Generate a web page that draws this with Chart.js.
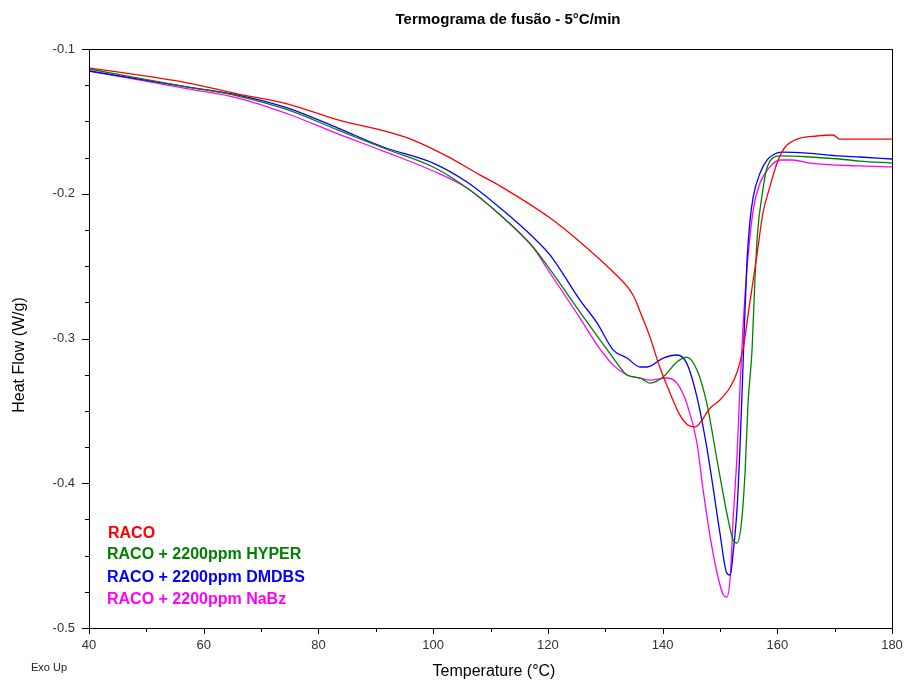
<!DOCTYPE html>
<html>
<head>
<meta charset="utf-8">
<script src="https://cdn.jsdelivr.net/npm/chart.js@4/dist/chart.umd.min.js"></script>
<style>
  html, body { margin: 0; padding: 0; background: #ffffff; }
  #wrap { width: 909px; height: 684px; }
</style>
</head>
<body>
<div id="wrap"><canvas id="c" width="909" height="684"></canvas></div>
<script>
// ---- Data (Temperature °C, Heat Flow W/g) ----
const racoT  = [40, 57.3, 66.0, 74.7, 83.4, 92.1, 96.5, 102.4, 108.2, 111.7, 120.4, 125.6, 131.4, 134.3, 135.2, 136.1, 137.8, 139.5, 141.3, 143.0, 144.4, 145.7, 146.5, 148.3, 150.0, 151.8, 153.0, 154.0, 155.2, 156.4, 157.5, 158.7, 159.9, 160.8, 161.7, 164.0, 166.9, 169.7, 170.9, 180];
const racoHF = [-0.1131, -0.1235, -0.1311, -0.1380, -0.1490, -0.1573, -0.1629, -0.1740, -0.1871, -0.1947, -0.2168, -0.2333, -0.2541, -0.2665, -0.2727, -0.2817, -0.2990, -0.3197, -0.3377, -0.3528, -0.3598, -0.3611, -0.3584, -0.3480, -0.3425, -0.3335, -0.3231, -0.3080, -0.2755, -0.2437, -0.2133, -0.1953, -0.1795, -0.1712, -0.1663, -0.1615, -0.1601, -0.1594, -0.1622, -0.1622];

const hyperT  = [40, 57.3, 66.0, 74.7, 83.4, 91.3, 100.0, 105.9, 111.7, 117.4, 119.8, 125.6, 128.6, 131.4, 133.8, 136.1, 137.8, 140.1, 142.5, 144.2, 146.0, 147.7, 149.5, 151.2, 152.3, 153.0, 153.8, 154.4, 154.9, 155.6, 156.1, 156.6, 157.3, 158.1, 159.2, 160.5, 165.7, 170.9, 174.4, 180];
const hyperHF = [-0.1138, -0.1263, -0.1325, -0.1421, -0.1560, -0.1684, -0.1815, -0.1960, -0.2147, -0.2368, -0.2492, -0.2817, -0.2983, -0.3135, -0.3252, -0.3273, -0.3308, -0.3266, -0.3162, -0.3128, -0.3218, -0.3446, -0.3840, -0.4206, -0.4392, -0.4413, -0.4254, -0.3909, -0.3446, -0.3080, -0.2596, -0.2251, -0.2022, -0.1836, -0.1753, -0.1739, -0.1746, -0.1760, -0.1774, -0.1788];

const dmdbsT  = [40, 57.3, 66.0, 74.7, 83.4, 91.3, 100.0, 105.9, 111.7, 117.4, 120.4, 125.6, 128.6, 131.4, 133.8, 136.1, 137.3, 140.1, 142.5, 144.2, 146.0, 147.7, 148.8, 150.0, 151.2, 151.8, 152.3, 153.0, 153.5, 154.0, 154.2, 154.7, 155.2, 155.8, 157.0, 158.2, 159.9, 161.0, 165.2, 170.9, 174.4, 180];
const dmdbsHF = [-0.1152, -0.1263, -0.1318, -0.1408, -0.1546, -0.1677, -0.1788, -0.1919, -0.2099, -0.2299, -0.2424, -0.2735, -0.2894, -0.3080, -0.3135, -0.3197, -0.3197, -0.3135, -0.3114, -0.3170, -0.3405, -0.3750, -0.4027, -0.4345, -0.4621, -0.4635, -0.4483, -0.4165, -0.3750, -0.3218, -0.2990, -0.2479, -0.2203, -0.2022, -0.1857, -0.1767, -0.1719, -0.1712, -0.1719, -0.1739, -0.1746, -0.1760];

const nabzT  = [40, 57.3, 66.0, 74.7, 83.4, 91.3, 100.0, 105.9, 111.7, 117.4, 119.8, 125.6, 128.6, 131.4, 133.8, 136.1, 137.8, 140.7, 142.5, 144.2, 146.0, 147.0, 148.3, 149.5, 150.6, 151.2, 151.8, 152.3, 153.0, 153.5, 154.0, 154.7, 155.8, 157.0, 158.7, 160.5, 162.7, 165.7, 174.4, 180];
const nabzHF = [-0.1152, -0.1276, -0.1339, -0.1449, -0.1587, -0.1705, -0.1843, -0.1960, -0.2147, -0.2368, -0.2513, -0.2859, -0.3045, -0.3184, -0.3252, -0.3273, -0.3287, -0.3273, -0.3308, -0.3446, -0.3722, -0.4026, -0.4371, -0.4620, -0.4772, -0.4786, -0.4648, -0.4254, -0.3791, -0.3335, -0.2941, -0.2527, -0.2112, -0.1926, -0.1815, -0.1767, -0.1767, -0.1788, -0.1808, -0.1815];

const seriesNames = ["RACO", "RACO + 2200ppm HYPER", "RACO + 2200ppm DMDBS", "RACO + 2200ppm NaBz"];
const xTickValues = [40, 60, 80, 100, 120, 140, 160, 180];
const yTickValues = [-0.1, -0.2, -0.3, -0.4, -0.5];
const chartTitle = "Termograma de fusão - 5°C/min";
const xTitle = "Temperature (°C)";
const yTitle = "Heat Flow (W/g)";
const cornerNote = "Exo Up";

const colors = ["#ff0000", "#008000", "#0000ff", "#ff00ff"];
const FONT = "Arial, 'Liberation Sans', sans-serif";

function pts(xs, ys) { return xs.map((x, i) => ({ x: x, y: ys[i] })); }

const datasets = [
  [racoT, racoHF], [hyperT, hyperHF], [dmdbsT, dmdbsHF], [nabzT, nabzHF]
].map((s, i) => ({
  label: seriesNames[i],
  data: pts(s[0], s[1]),
  borderColor: colors[i],
  backgroundColor: colors[i],
  borderWidth: 1.3,
  pointRadius: 0,
  fill: false,
  showLine: true,
  cubicInterpolationMode: 'monotone'
}));

const decor = {
  id: 'decor',
  afterDraw(chart) {
    const ctx = chart.ctx;
    const a = chart.chartArea;
    const xs = chart.scales.x, ys = chart.scales.y;
    ctx.save();
    // frame
    ctx.strokeStyle = '#000';
    ctx.lineWidth = 1;
    ctx.strokeRect(Math.round(a.left) + 0.5, Math.round(a.top) + 0.5, Math.round(a.right - a.left), Math.round(a.bottom - a.top));
    // x ticks
    ctx.beginPath();
    for (let t = 40; t <= 180; t += 10) {
      const px = Math.round(xs.getPixelForValue(t)) + 0.5;
      const len = (t % 20 === 0) ? 6 : 4;
      ctx.moveTo(px, a.bottom);
      ctx.lineTo(px, a.bottom + len);
    }
    // y ticks
    for (let k = 0; k <= 16; k++) {
      const v = -0.5 + k * 0.025;
      const py = Math.round(ys.getPixelForValue(v)) + 0.5;
      const len = (k % 4 === 0) ? 7 : 4;
      ctx.moveTo(a.left, py);
      ctx.lineTo(a.left - len, py);
    }
    ctx.stroke();

    // title
    ctx.fillStyle = '#000';
    ctx.textAlign = 'center';
    ctx.textBaseline = 'middle';
    ctx.font = 'bold 15px ' + FONT;
    ctx.fillText(chartTitle, 508, 20);
    // axis titles
    ctx.font = '16px ' + FONT;
    ctx.fillText(xTitle, 494, 672);
    ctx.save();
    ctx.translate(20, 355);
    ctx.rotate(-Math.PI / 2);
    ctx.fillText(yTitle, 0, 0);
    ctx.restore();
    // corner note
    ctx.font = '11px ' + FONT;
    ctx.textAlign = 'left';
    ctx.fillStyle = '#222';
    ctx.fillText(cornerNote, 31, 668);
    // legend text
    ctx.font = 'bold 16px ' + FONT;
    const ly = [534, 555, 578, 600];
    const lx = [108, 107, 107, 107];
    seriesNames.forEach((n, i) => {
      ctx.fillStyle = colors[i];
      ctx.fillText(n, lx[i], ly[i]);
    });
    ctx.restore();
  }
};

new Chart(document.getElementById('c'), {
  type: 'scatter',
  data: { datasets: datasets },
  options: {
    responsive: false,
    animation: false,
    devicePixelRatio: 1,
    layout: { padding: { left: 0, top: 49, right: 17, bottom: 0 } },
    plugins: { legend: { display: false }, title: { display: false }, tooltip: { enabled: false } },
    scales: {
      x: {
        type: 'linear', min: 40, max: 180,
        afterFit(s) { s.height = 56; s.paddingLeft = 0; s.paddingRight = 0; },
        afterBuildTicks(s) { s.ticks = xTickValues.map(v => ({ value: v })); },
        grid: { display: false, drawTicks: false },
        border: { display: false },
        ticks: { padding: 10, color: '#333', font: { family: FONT, size: 13 }, maxRotation: 0, autoSkip: false, callback: v => String(v) }
      },
      y: {
        type: 'linear', min: -0.5, max: -0.1,
        afterFit(s) { s.width = 89; s.paddingTop = 0; s.paddingBottom = 0; },
        afterBuildTicks(s) { s.ticks = yTickValues.map(v => ({ value: v })); },
        grid: { display: false, drawTicks: false },
        border: { display: false },
        ticks: { padding: 14, color: '#333', font: { family: FONT, size: 13 }, autoSkip: false, callback: v => v.toFixed(1) }
      }
    }
  },
  plugins: [decor]
});
</script>
</body>
</html>
